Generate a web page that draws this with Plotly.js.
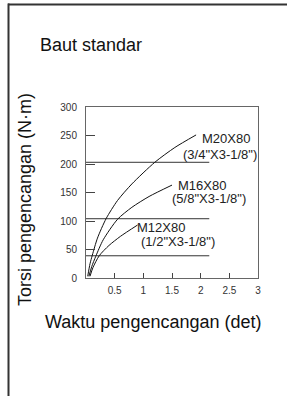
<!DOCTYPE html>
<html>
<head>
<meta charset="utf-8">
<script src="https://cdn.plot.ly/plotly-3.0.1.min.js"></script>
<style>
html,body{margin:0;padding:0;background:#fff;}
#chart{width:287px;height:396px;}
</style>
</head>
<body>
<div id="chart"></div>
<script>
// ---- data ----
const m20X = [0.03, 0.07, 0.11, 0.20, 0.35, 0.55, 0.80, 1.20, 1.55, 1.92];
const m20Y = [3, 25, 40, 70, 104, 136, 165, 203, 229, 251];
const m16X = [0.05, 0.10, 0.17, 0.30, 0.55, 0.80, 1.10, 1.50];
const m16Y = [3, 20, 38, 67, 103, 124, 143, 163];
const m12X = [0.07, 0.12, 0.23, 0.40, 0.60, 0.90];
const m12Y = [3, 18, 39, 57, 73, 93];
const refLevels = [203, 104, 39];
const refStartX = 0;
const refEndX = 2.15;
const xTickVals = [0.5, 1, 1.5, 2, 2.5, 3];
const xTickText = ["0.5", "1", "1.5", "2", "2.5", "3"];
const yTickVals = [0, 50, 100, 150, 200, 250, 300];
const yTickText = ["0", "50", "100", "150", "200", "250", "300"];
const seriesNames = ["M20X80", "M16X80", "M12X80"];
const seriesSizes = ['(3/4"X3-1/8")', '(5/8"X3-1/8")', '(1/2"X3-1/8")'];
const chartTitle = "Baut standar";
const xTitle = "Waktu pengencangan (det)";
const yTitle = "Torsi pengencangan (N·m)";

// ---- layout constants (pixels) ----
const W = 287, H = 396;
const mL = 86, mR = 29, mT = 107, mB = 118;
const pw = W - mL - mR, ph = H - mT - mB;
const px = p => (p - mL) / pw;
const py = p => (H - mB - p) / ph;

const FONT = "Liberation Sans, Arial, sans-serif";

const traces = [];
refLevels.forEach(v => {
  traces.push({x: [refStartX, refEndX], y: [v, v], mode: 'lines',
    line: {color: '#333', width: 1}, hoverinfo: 'skip', showlegend: false});
});
[[m20X, m20Y], [m16X, m16Y], [m12X, m12Y]].forEach(([xs, ys]) => {
  traces.push({x: xs, y: ys, mode: 'lines',
    line: {color: '#111', width: 1, shape: 'spline', smoothing: 0.7},
    hoverinfo: 'skip', showlegend: false});
});

const labelPos = [
  {n: [2.44, 245], s: [2.33, 216]},
  {n: [2.02, 162], s: [2.15, 140]},
  {n: [1.30, 88], s: [1.61, 64]}
];
const annotations = [];
seriesNames.forEach((nm, i) => {
  annotations.push({x: labelPos[i].n[0], y: labelPos[i].n[1], xref: 'x', yref: 'y',
    text: nm, showarrow: false, font: {family: FONT, size: 13, color: '#222'}});
  annotations.push({x: labelPos[i].s[0], y: labelPos[i].s[1], xref: 'x', yref: 'y',
    text: seriesSizes[i], showarrow: false, font: {family: FONT, size: 13, color: '#222'}});
});
annotations.push({x: px(38), y: py(45), xref: 'paper', yref: 'paper', xanchor: 'left', yanchor: 'middle',
  text: chartTitle, showarrow: false, font: {family: FONT, size: 18, color: '#111'}});
annotations.push({x: px(153), y: py(322), xref: 'paper', yref: 'paper', xanchor: 'center', yanchor: 'middle',
  text: xTitle, showarrow: false, font: {family: FONT, size: 18, color: '#111'}});
annotations.push({x: px(25), y: py(200), xref: 'paper', yref: 'paper', xanchor: 'center', yanchor: 'middle',
  text: yTitle, textangle: -90, showarrow: false, font: {family: FONT, size: 18, color: '#111'}});

const shapes = [
  {type: 'line', xref: 'paper', yref: 'paper', x0: px(8), x1: px(290), y0: py(4.5), y1: py(4.5),
    line: {color: '#333', width: 2}},
  {type: 'line', xref: 'paper', yref: 'paper', x0: px(8.5), x1: px(8.5), y0: py(3.5), y1: py(400),
    line: {color: '#333', width: 2}}
];

const layout = {
  width: W, height: H,
  margin: {l: mL, r: mR, t: mT, b: mB, pad: 0},
  paper_bgcolor: '#fff', plot_bgcolor: '#fff',
  showlegend: false,
  font: {family: FONT, color: '#222'},
  xaxis: {range: [0, 3], tickvals: xTickVals, ticktext: xTickText,
    ticks: 'inside', ticklen: 5, tickcolor: '#444', tickwidth: 1,
    showline: true, linecolor: '#666', linewidth: 1, mirror: true,
    showgrid: false, zeroline: false, tickfont: {family: FONT, size: 10, color: '#333'},
    ticklabelstandoff: 3},
  yaxis: {range: [0, 300], tickvals: yTickVals, ticktext: yTickText,
    ticks: 'inside', ticklen: 9, tickcolor: '#444', tickwidth: 1,
    showline: true, linecolor: '#666', linewidth: 1, mirror: true,
    showgrid: false, zeroline: false, tickfont: {family: FONT, size: 10, color: '#333'},
    ticklabelstandoff: 6},
  annotations: annotations,
  shapes: shapes
};

Plotly.newPlot('chart', traces, layout, {staticPlot: true, displayModeBar: false});
</script>
</body>
</html>
